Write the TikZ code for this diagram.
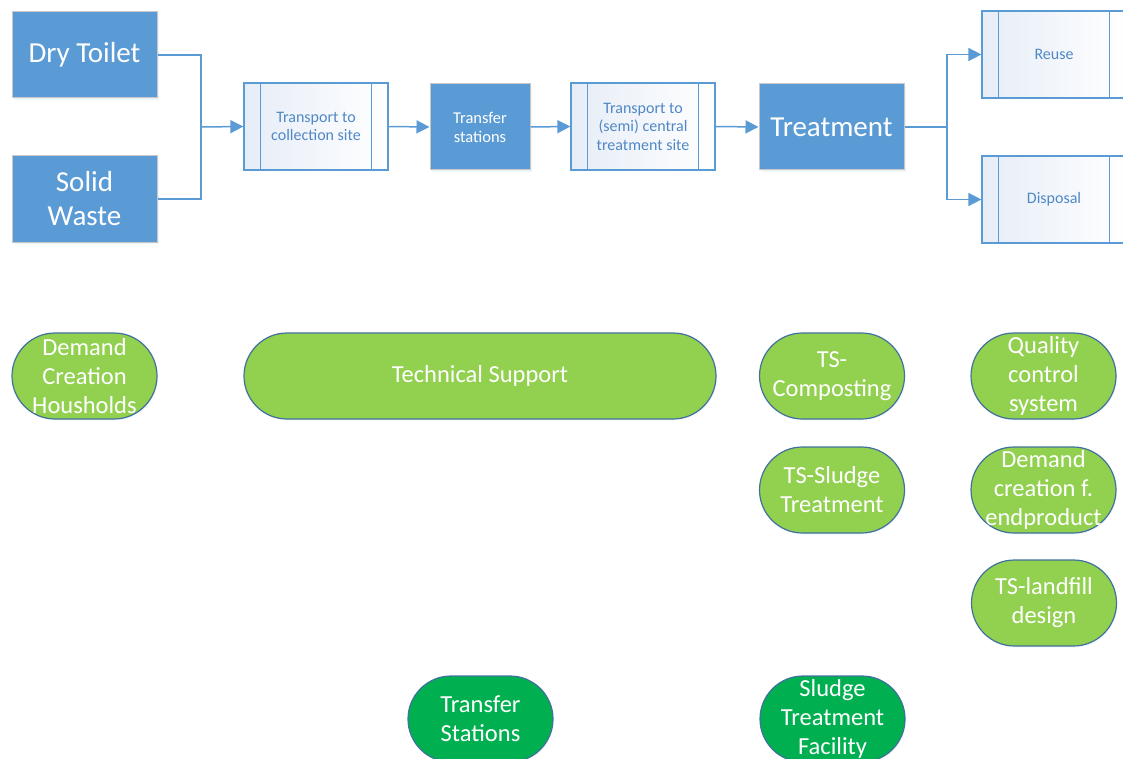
\documentclass[tikz,border=0pt]{standalone}
\usepackage{fontspec}
\setmainfont{Carlito}
\usetikzlibrary{arrows.meta,positioning,shadows}
\definecolor{boxblue}{HTML}{5B9BD5}
\definecolor{proctext}{HTML}{4F88C6}
\definecolor{pillgreen}{HTML}{92D050}
\definecolor{darkgreen}{HTML}{00B050}
\definecolor{pillborder}{HTML}{41719C}
\definecolor{procfill}{HTML}{E6EDF7}
\tikzset{
  bluebox/.style={draw=black!22, line width=1pt, fill=boxblue, text=white,
    minimum width=145pt, minimum height=86pt, inner sep=0pt, align=center,
    drop shadow={shadow xshift=1.5pt, shadow yshift=-2pt, opacity=0.18, fill=boxblue!60}},
  bigtext/.style={font=\fontsize{29}{34}\selectfont},
  procbox/.style={draw=boxblue, line width=1.2pt, left color=procfill, right color=white,
    text=proctext, minimum width=144pt, minimum height=87pt, inner sep=0pt, align=center,
    font=\fontsize{16}{18.5}\selectfont},
  pill/.style={draw=pillborder, line width=1.2pt, fill=pillgreen, text=white,
    rounded corners=43pt, minimum width=145pt, minimum height=86pt, inner sep=0pt,
    align=center, font=\fontsize{24.5}{29}\selectfont,
    drop shadow={shadow xshift=1pt, shadow yshift=-1.5pt, opacity=0.15, fill=boxblue!50}},
  flow/.style={draw=boxblue, line width=1.5pt},
  flowarrow/.style={flow, -{Triangle[length=13pt,width=13pt]}},
}
\newcommand{\procsides}[1]{%
  \draw[boxblue, line width=1.2pt] ([xshift=17pt]#1.north west) -- ([xshift=17pt]#1.south west);
  \draw[boxblue, line width=1.2pt] ([xshift=-17pt]#1.north east) -- ([xshift=-17pt]#1.south east);}
\begin{document}
\begin{tikzpicture}[x=1pt, y=-1pt]
\useasboundingbox (0,0) rectangle (1123,759);
\clip (0,0) rectangle (1123,759);

% sources
\node[bluebox, bigtext] (dry) at (84.5,55) {Dry Toilet};
\node[bluebox, bigtext] (solid) at (84.5,199) {Solid\\Waste};

% main chain
\node[procbox] (tcol) at (316,126.5) {Transport to\\collection site};
\node[bluebox, minimum width=100pt, font=\fontsize{16.5}{19}\selectfont] (tstat) at (480,127) {Transfer\\stations};
\node[procbox] (tcen) at (643,126.5) {Transport to\\(semi) central\\treatment site};
\node[bluebox, bigtext] (treat) at (831.5,127) {Treatment};

% outlets
\node[procbox] (reuse) at (1054,54.5) {Reuse};
\node[procbox] (disp) at (1054,199.5) {Disposal};

\procsides{tcol}
\procsides{tcen}
\procsides{reuse}
\procsides{disp}

% connectors
\coordinate (jin) at (201,127);
\coordinate (jout) at (947,127);
\draw[flow] (dry.east) -| (jin);
\draw[flow] (solid.east) -| (jin);
\draw[flowarrow] (jin) -- (tcol.west);
\draw[flowarrow] (tcol.east) -- (tstat.west);
\draw[flowarrow] (tstat.east) -- (tcen.west);
\draw[flowarrow] (tcen.east) -- (treat.west);
\draw[flow] (treat.east) -- (jout);
\draw[flowarrow] (jout) |- (reuse.west);
\draw[flowarrow] (jout) |- (disp.west);

% support activities
\node[pill] (dch) at (84.5,376) {Demand\\Creation\\Housholds};
\node[pill, minimum width=472pt] (tsup) at (480,376) {Technical Support};
\node[pill] (tscomp) at (832,376) {TS-\\Composting};
\node[pill] (tssl) at (832,490) {TS-Sludge\\Treatment};
\node[pill] (qcs) at (1043.5,376) {Quality\\control\\system};
\node[pill] (dcep) at (1043.5,490) {Demand\\creation f.\\endproduct};
\node[pill] (tslf) at (1044,603) {TS-landfill\\design};

% facilities
\node[pill, fill=darkgreen] (tsfac) at (480.5,719) {Transfer\\Stations};
\node[pill, fill=darkgreen] (stf) at (832.5,719) {Sludge\\Treatment\\Facility};
\end{tikzpicture}
\end{document}
